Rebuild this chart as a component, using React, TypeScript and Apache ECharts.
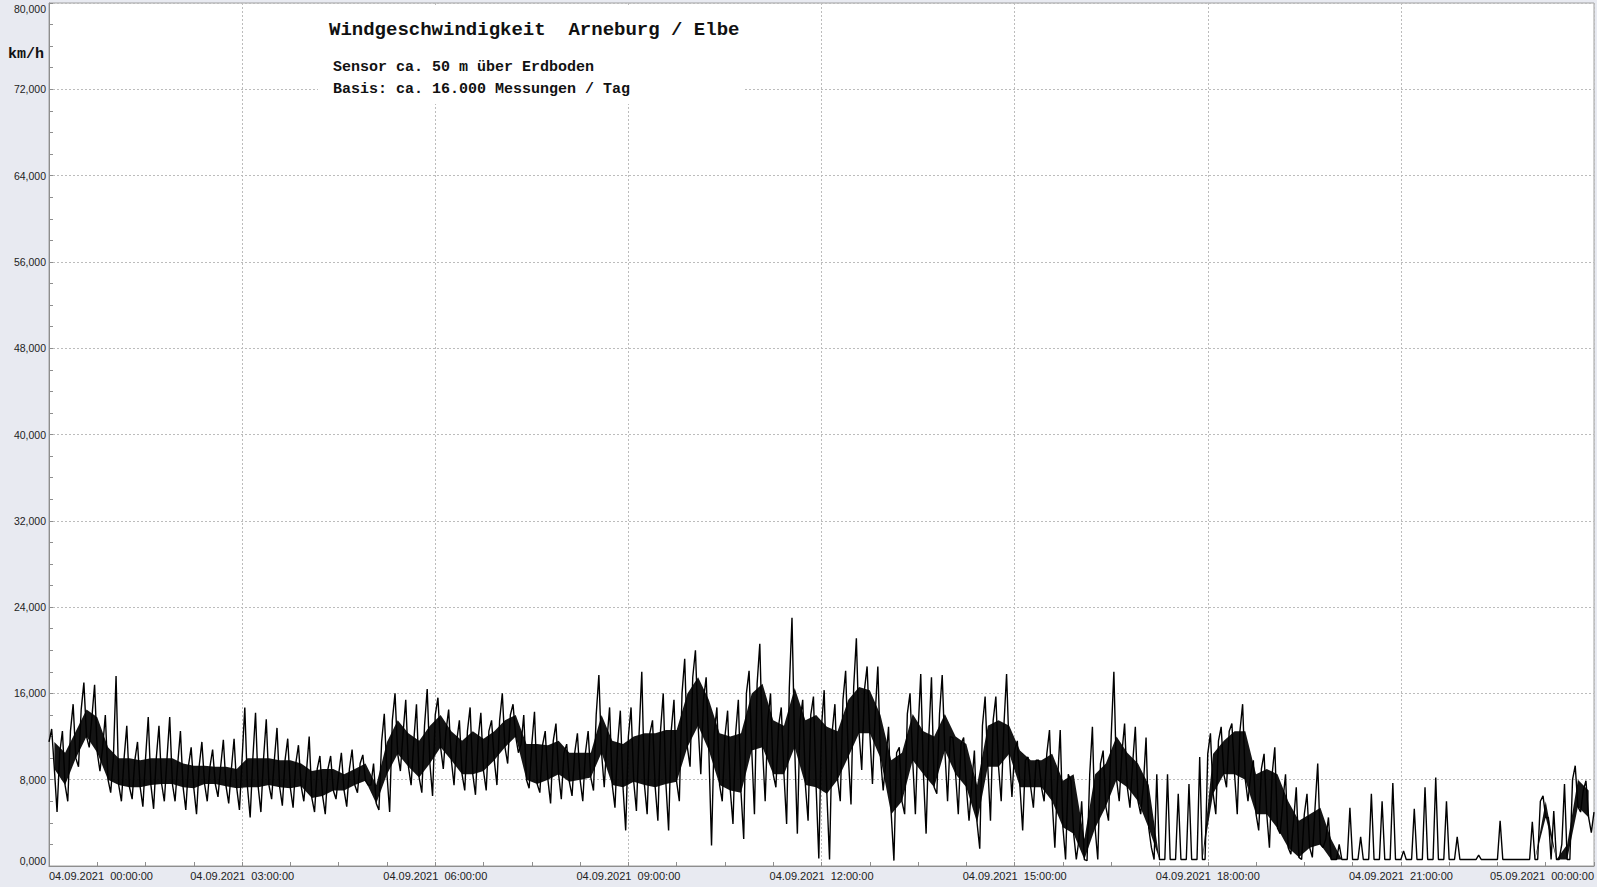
import React, { useEffect, useRef } from 'react';
import * as echarts from 'echarts';

// Wind speed (km/h) per 10-minute slot:
// highs/lows = extreme spikes, coreHighs/coreLows = edges of the dense black band
const highs: number[] = [
  12.7, 12.5, 15.0, 17.0, 16.8, 14.0, // 00h
  17.6, 13.0, 11.5, 13.8, 13.0, 13.8, // 01h
  12.5, 11.0, 11.5, 10.8, 11.7, 11.8, // 02h
  14.7, 14.2, 13.6, 12.8, 11.8, 11.2, // 03h
  12.0, 10.2, 10.2, 10.5, 10.8, 10.3, // 04h
  9.5, 14.1, 16.0, 15.4, 15.0, 16.4, // 05h
  15.6, 14.5, 13.5, 14.7, 14.2, 13.5, // 06h
  16.0, 15.0, 14.0, 14.3, 12.5, 13.2, // 07h
  11.3, 12.3, 12.5, 17.7, 14.7, 14.4, // 08h
  14.7, 18.0, 13.5, 16.0, 15.4, 19.2, // 09h
  20.0, 17.5, 14.7, 14.4, 15.4, 18.1, // 10h
  20.6, 16.0, 14.7, 23.0, 15.4, 15.7, // 11h
  16.3, 15.0, 18.1, 21.1, 18.5, 18.5, // 12h
  12.9, 11.0, 16.0, 17.8, 17.5, 17.7, // 13h
  11.9, 11.9, 10.7, 15.7, 15.7, 17.8, // 14h
  11.6, 10.1, 9.8, 12.6, 12.6, 7.9, // 15h
  6.0, 12.9, 10.7, 18.0, 13.2, 12.9, // 16h
  11.9, 8.5, 8.5, 6.7, 7.6, 10.1, // 17h
  12.3, 12.9, 13.2, 15.0, 9.8, 10.4, // 18h
  11.0, 8.5, 7.3, 6.7, 9.5, 4.5, // 19h
  2.0, 5.4, 2.7, 6.7, 6.0, 7.7, // 20h
  1.4, 5.3, 7.3, 8.2, 6.0, 2.7, // 21h
  0.6, 1.0, 0.6, 4.2, 0.6, 0.6, // 22h
  4.1, 6.5, 5.1, 7.6, 9.3, 7.9, // 23h
];

const lows: number[] = [
  5.0, 6.0, 9.2, 11.0, 8.8, 6.8, // 00h
  6.0, 6.2, 5.5, 5.3, 6.0, 6.0, // 01h
  5.2, 4.8, 6.0, 6.4, 5.8, 5.2, // 02h
  4.5, 5.0, 6.2, 5.6, 5.4, 6.0, // 03h
  5.0, 4.8, 6.2, 5.5, 6.8, 7.5, // 04h
  5.2, 5.0, 8.8, 7.5, 6.8, 6.5, // 05h
  9.0, 7.5, 7.0, 6.6, 7.0, 7.5, // 06h
  9.5, 10.5, 7.2, 6.8, 5.8, 6.2, // 07h
  6.5, 6.0, 7.0, 7.3, 5.4, 3.3, // 08h
  5.1, 4.8, 4.2, 3.3, 6.0, 9.2, // 09h
  8.5, 1.9, 6.0, 3.9, 2.5, 4.8, // 10h
  6.0, 7.3, 3.9, 3.0, 4.2, 0.7, // 11h
  0.6, 6.0, 5.7, 8.9, 7.6, 7.0, // 12h
  0.5, 4.8, 4.8, 3.0, 6.7, 6.0, // 13h
  4.8, 4.2, 1.6, 4.2, 6.0, 6.4, // 14h
  3.3, 5.4, 6.0, 1.7, 0.6, 0.6, // 15h
  0.5, 0.6, 4.2, 6.0, 5.4, 4.8, // 16h
  1.7, 0.6, 0.6, 0.6, 0.6, 0.6, // 17h
  4.8, 7.3, 4.8, 6.0, 3.3, 1.7, // 18h
  3.0, 1.1, 0.6, 0.8, 1.7, 0.6, // 19h
  0.6, 0.6, 0.6, 0.6, 0.6, 0.6, // 20h
  0.6, 0.6, 0.6, 0.6, 0.6, 0.6, // 21h
  0.6, 0.6, 0.6, 0.6, 0.6, 0.6, // 22h
  0.6, 4.5, 0.6, 0.6, 5.0, 3.1, // 23h
];

const coreHighs: number[] = [
  11.5, 10.5, 12.5, 14.5, 13.8, 11.0, // 00h
  10.0, 10.0, 9.8, 10.0, 10.0, 10.0, // 01h
  9.5, 9.3, 9.3, 9.2, 9.2, 9.0, // 02h
  10.0, 10.0, 10.0, 9.8, 9.8, 9.5, // 03h
  8.8, 9.0, 9.0, 8.5, 9.0, 9.5, // 04h
  7.5, 11.5, 13.5, 12.3, 11.6, 13.0, // 05h
  14.0, 12.5, 11.6, 12.5, 11.8, 12.5, // 06h
  13.5, 14.0, 11.3, 11.3, 11.2, 11.6, // 07h
  10.5, 10.5, 10.5, 14.0, 11.6, 11.3, // 08h
  12.0, 12.3, 12.3, 12.6, 12.6, 16.0, // 09h
  17.5, 15.4, 12.3, 12.0, 12.3, 16.0, // 10h
  16.9, 13.5, 13.0, 16.5, 13.5, 14.0, // 11h
  12.9, 12.5, 15.4, 16.6, 16.3, 14.0, // 12h
  9.8, 10.5, 14.1, 12.5, 12.0, 14.1, // 13h
  12.0, 11.3, 7.5, 13.0, 13.5, 13.0, // 14h
  10.7, 9.8, 9.8, 10.4, 7.9, 8.5, // 15h
  2.5, 8.5, 9.5, 12.0, 10.5, 9.5, // 16h
  7.5, 0.6, 0.6, 0.6, 0.6, 0.6, // 17h
  10.4, 11.6, 12.5, 12.5, 8.5, 9.0, // 18h
  8.5, 6.0, 4.2, 4.8, 5.4, 2.5, // 19h
  0.6, 0.6, 0.6, 0.6, 0.6, 0.6, // 20h
  0.6, 0.6, 0.6, 0.6, 0.6, 0.6, // 21h
  0.6, 0.6, 0.6, 0.6, 0.6, 0.6, // 22h
  0.6, 6.0, 0.6, 2.0, 8.0, 7.0, // 23h
];

const coreLows: number[] = [
  9.0, 7.5, 10.0, 12.0, 10.5, 8.0, // 00h
  7.5, 7.3, 7.3, 7.5, 7.6, 7.6, // 01h
  7.3, 7.2, 7.6, 7.6, 7.4, 7.2, // 02h
  7.3, 7.3, 7.5, 7.3, 7.2, 7.4, // 03h
  6.3, 6.5, 7.0, 7.0, 7.5, 7.9, // 04h
  5.8, 8.5, 10.4, 9.2, 8.2, 9.5, // 05h
  11.0, 9.8, 8.5, 8.5, 8.8, 9.8, // 06h
  11.0, 12.0, 8.0, 7.6, 8.0, 8.5, // 07h
  7.8, 8.0, 8.2, 10.5, 7.5, 7.3, // 08h
  7.8, 7.5, 7.3, 7.6, 7.8, 11.0, // 09h
  13.0, 10.7, 7.5, 7.0, 6.8, 10.7, // 10h
  11.0, 8.5, 8.5, 11.0, 7.5, 7.3, // 11h
  6.7, 8.0, 10.1, 12.3, 12.3, 10.0, // 12h
  4.8, 6.0, 9.8, 8.5, 7.3, 10.7, // 13h
  8.5, 7.3, 4.0, 9.2, 9.2, 10.4, // 14h
  7.3, 7.3, 7.3, 6.0, 3.6, 3.0, // 15h
  0.6, 3.5, 5.5, 8.0, 7.3, 6.0, // 16h
  3.5, 0.6, 0.6, 0.6, 0.6, 0.6, // 17h
  6.7, 8.5, 8.5, 8.0, 4.8, 4.8, // 18h
  3.5, 1.7, 0.8, 1.7, 2.0, 0.6, // 19h
  0.6, 0.6, 0.6, 0.6, 0.6, 0.6, // 20h
  0.6, 0.6, 0.6, 0.6, 0.6, 0.6, // 21h
  0.6, 0.6, 0.6, 0.6, 0.6, 0.6, // 22h
  0.6, 4.5, 0.6, 0.6, 5.5, 4.5, // 23h
];

const endValue = 5.0;

const title = 'Windgeschwindigkeit  Arneburg / Elbe';
const subtitle1 = 'Sensor ca. 50 m über Erdboden';
const subtitle2 = 'Basis: ca. 16.000 Messungen / Tag';
const unitLabel = 'km/h';
const dayLabels = ['04.09.2021', '05.09.2021'];

function pad(n: number) {
  return n < 10 ? '0' + n : String(n);
}

export default function App() {
  const ref = useRef<HTMLDivElement>(null);

  useEffect(() => {
    const chart = echarts.init(ref.current as HTMLDivElement, null, { renderer: 'svg' });

    const slot = 1 / 6; // 10 minutes in hours
    const line: [number, number][] = [];
    const band: [number, number, number][] = [];
    for (let i = 0; i < highs.length; i++) {
      const t = i * slot;
      line.push([t, coreHighs[i]]);
      line.push([t + slot * 0.25, highs[i]]);
      line.push([t + slot * 0.5, coreLows[i]]);
      line.push([t + slot * 0.75, lows[i]]);
      band.push([t + slot * 0.5, coreLows[i], coreHighs[i]]);
    }
    line.push([24, endValue]);

    const axisColor = '#8e8e8e';
    const gridLine = { show: true, lineStyle: { color: '#bcbcbc', type: [2, 2] as number[], width: 1 } };

    chart.setOption({
      animation: false,
      backgroundColor: '#e8eaf1',
      grid: {
        left: 49,
        right: 3,
        top: 3,
        bottom: 21,
        show: true,
        backgroundColor: '#ffffff',
        borderColor: '#a0a0a0',
        borderWidth: 1,
      },
      xAxis: {
        type: 'value',
        min: 0,
        max: 24,
        interval: 3,
        axisLine: { show: true, onZero: false, lineStyle: { color: axisColor } },
        axisTick: { show: true, inside: true, length: 4, lineStyle: { color: axisColor } },
        minorTick: { show: true, splitNumber: 4, length: 4, lineStyle: { color: axisColor } },
        splitLine: gridLine,
        axisLabel: {
          showMinLabel: true,
          showMaxLabel: true,
          alignMinLabel: 'left',
          alignMaxLabel: 'right',
          margin: 4,
          fontFamily: 'Liberation Sans, Arial, sans-serif',
          fontSize: 11,
          color: '#222',
          formatter: (v: number) => {
            const day = v >= 24 ? dayLabels[1] : dayLabels[0];
            return day + '  ' + pad(Math.round(v) % 24) + ':00:00';
          },
        },
      },
      yAxis: {
        type: 'value',
        min: 0,
        max: 80,
        interval: 8,
        axisLine: { show: true, lineStyle: { color: axisColor } },
        axisTick: { show: true, inside: true, length: 4, lineStyle: { color: axisColor } },
        minorTick: { show: true, splitNumber: 4, length: 4, lineStyle: { color: axisColor } },
        splitLine: gridLine,
        axisLabel: {
          margin: 3,
          fontFamily: 'Liberation Sans, Arial, sans-serif',
          fontSize: 10.5,
          color: '#222',
          verticalAlignMinLabel: 'bottom',
          verticalAlignMaxLabel: 'top',
          formatter: (v: number) => v.toFixed(3).replace('.', ','),
        },
      },
      series: [
        {
          type: 'custom',
          name: 'band',
          silent: true,
          clip: true,
          data: [[0, 0, 0]],
          renderItem: (_params: any, api: any) => {
            const top = band.map((d) => api.coord([d[0], d[2]]));
            const bottom = band.map((d) => api.coord([d[0], d[1]])).reverse();
            return {
              type: 'polygon',
              shape: { points: top.concat(bottom) },
              style: { fill: '#000', opacity: 0.92 },
            };
          },
        },
        {
          type: 'line',
          name: 'wind',
          data: line,
          symbol: 'none',
          showSymbol: false,
          silent: true,
          lineStyle: { color: '#000', width: 1.4 },
        },
      ],
      graphic: [
        {
          type: 'rect',
          z: 50,
          shape: { x: 318, y: 7, width: 427, height: 97 },
          style: { fill: '#ffffff' },
        },
        {
          type: 'text',
          z: 60,
          x: 329,
          y: 30,
          style: {
            text: title,
            font: 'bold 19px "Liberation Mono", "Courier New", monospace',
            fill: '#111',
            verticalAlign: 'middle',
          },
        },
        {
          type: 'text',
          z: 60,
          x: 333,
          y: 67,
          style: {
            text: subtitle1,
            font: 'bold 15px "Liberation Mono", "Courier New", monospace',
            fill: '#111',
            verticalAlign: 'middle',
          },
        },
        {
          type: 'text',
          z: 60,
          x: 333,
          y: 89,
          style: {
            text: subtitle2,
            font: 'bold 15px "Liberation Mono", "Courier New", monospace',
            fill: '#111',
            verticalAlign: 'middle',
          },
        },
        {
          type: 'text',
          z: 60,
          x: 8,
          y: 54,
          style: {
            text: unitLabel,
            font: 'bold 15px "Liberation Mono", "Courier New", monospace',
            fill: '#111',
            verticalAlign: 'middle',
          },
        },
      ],
    });

    return () => chart.dispose();
  }, []);

  return (
    <div
      ref={ref}
      style={{ position: 'fixed', left: 0, top: 0, width: 1597, height: 887 }}
    />
  );
}
